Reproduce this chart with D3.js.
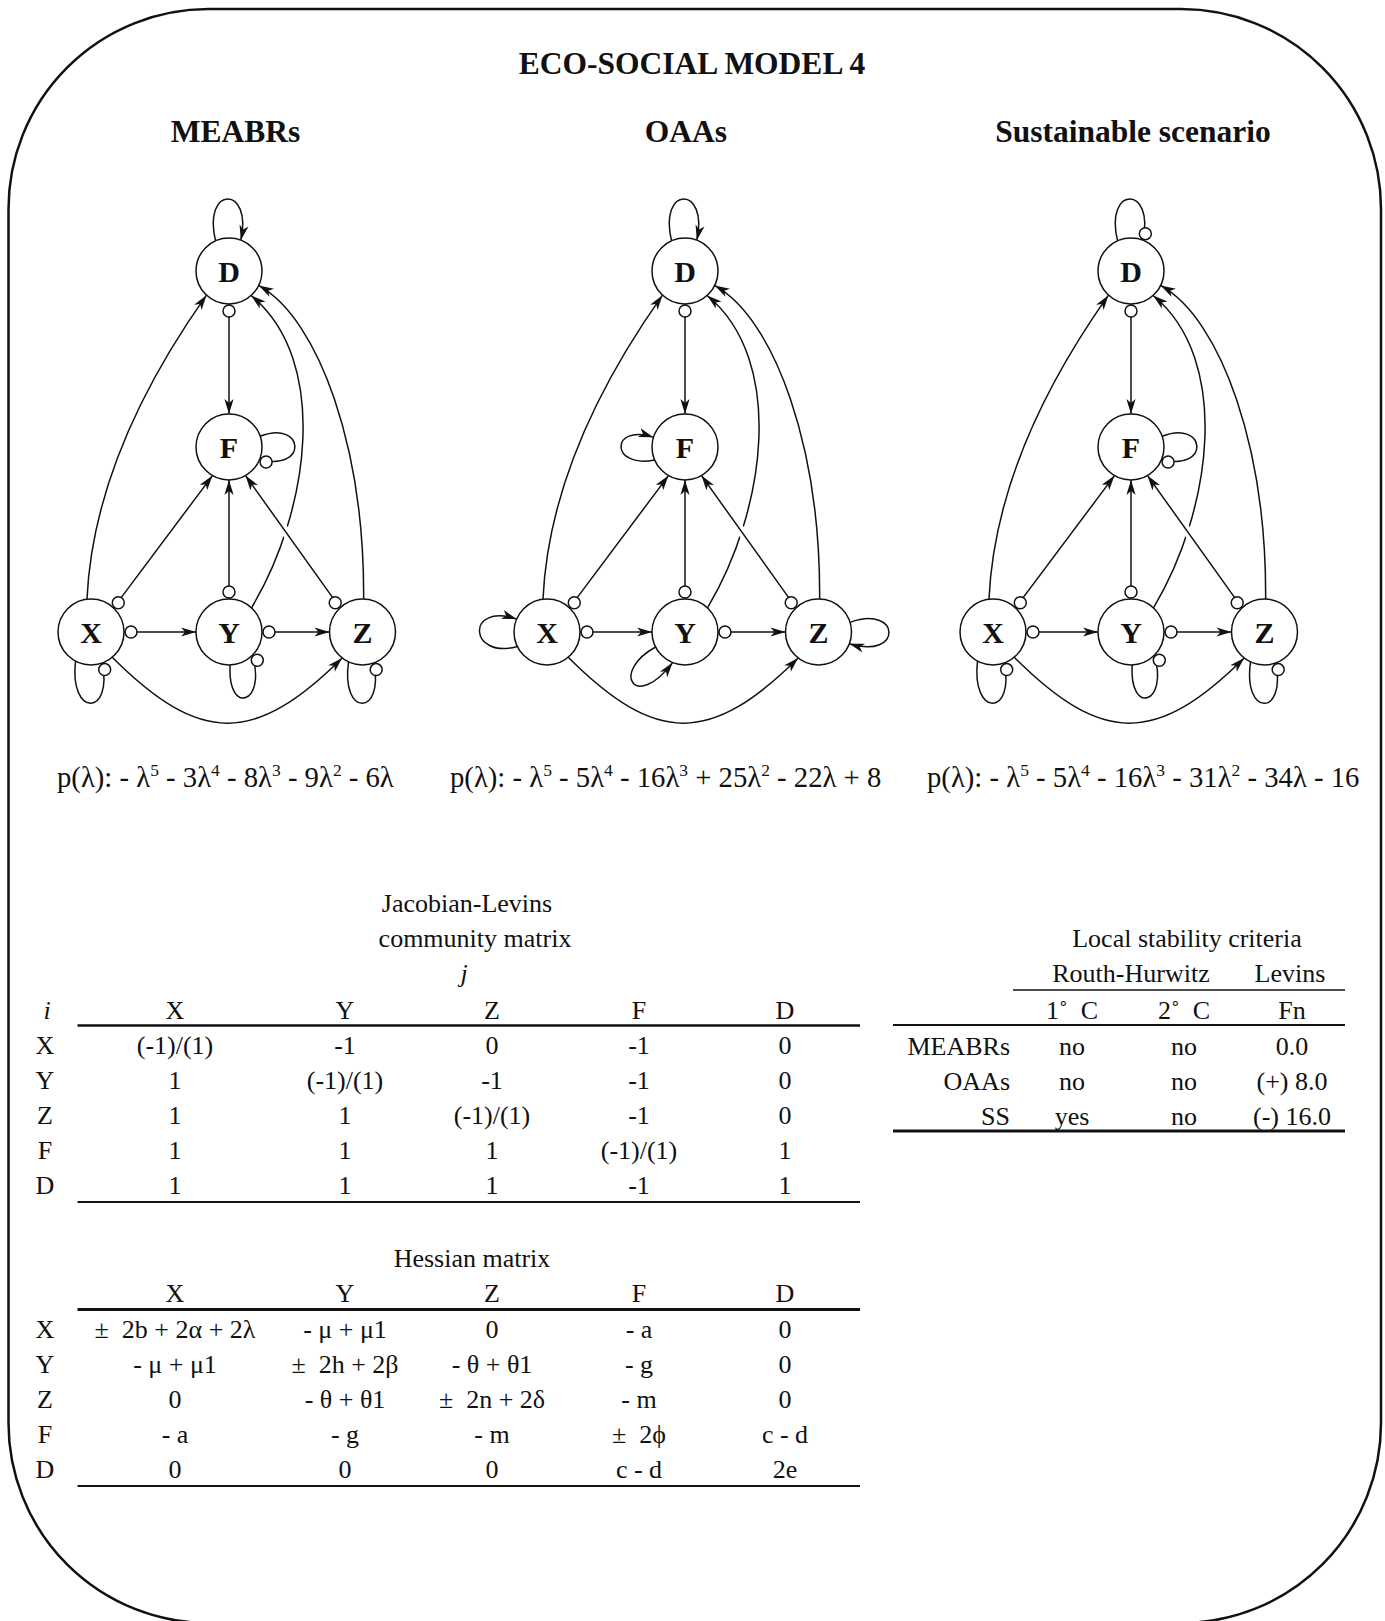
<!DOCTYPE html>
<html><head><meta charset="utf-8">
<script src="https://cdn.jsdelivr.net/npm/d3@7"></script>
<style>
html,body{margin:0;padding:0;background:#fff;}
svg{display:block;}
text{font-family:"Liberation Serif","Times New Roman",serif;fill:#111;}
</style></head><body>
<svg id="chart" width="1385" height="1621"></svg>
<script>
// ---------------- DATA ----------------
const figureTitle = "ECO-SOCIAL MODEL 4";
const scenarioTitles = ["MEABRs", "OAAs", "Sustainable scenario"];
const nodeIds = ["D", "F", "X", "Y", "Z"];
// interactions shared by the three scenarios ("circle" = negative, "arrow" = positive)
const interactionEdges = [
  {source: "X", target: "D", tail: null, head: "arrow"},
  {source: "Y", target: "D", tail: null, head: "arrow"},
  {source: "Z", target: "D", tail: null, head: "arrow"},
  {source: "X", target: "Z", tail: null, head: "arrow"},
  {source: "D", target: "F", tail: "circle", head: "arrow"},
  {source: "X", target: "F", tail: "circle", head: "arrow"},
  {source: "Y", target: "F", tail: "circle", head: "arrow"},
  {source: "Z", target: "F", tail: "circle", head: "arrow"},
  {source: "X", target: "Y", tail: "circle", head: "arrow"},
  {source: "Y", target: "Z", tail: "circle", head: "arrow"}
];
// self-effects per scenario: "+" arrow loop, "-" circle loop
const selfEffects = [
  {D: "+", F: "-", X: "-", Y: "-", Z: "-"},
  {D: "+", F: "+", X: "+", Y: "+", Z: "+"},
  {D: "-", F: "-", X: "-", Y: "-", Z: "-"}
];
// characteristic polynomials: [sign, coefficient, power of λ]
const polynomials = [
  [["-", "", 5], ["-", "3", 4], ["-", "8", 3], ["-", "9", 2], ["-", "6", 1]],
  [["-", "", 5], ["-", "5", 4], ["-", "16", 3], ["+", "25", 2], ["-", "22", 1], ["+", "8", 0]],
  [["-", "", 5], ["-", "5", 4], ["-", "16", 3], ["-", "31", 2], ["-", "34", 1], ["-", "16", 0]]
];
const matrixVars = ["X", "Y", "Z", "F", "D"];
const jacobianRows = [
  ["(-1)/(1)", "-1", "0", "-1", "0"],
  ["1", "(-1)/(1)", "-1", "-1", "0"],
  ["1", "1", "(-1)/(1)", "-1", "0"],
  ["1", "1", "1", "(-1)/(1)", "1"],
  ["1", "1", "1", "-1", "1"]
];
const hessianRows = [
  ["\u00b1\u00a0 2b + 2\u03b1 + 2\u03bb", "- \u03bc + \u03bc1", "0", "- a", "0"],
  ["- \u03bc + \u03bc1", "\u00b1\u00a0 2h + 2\u03b2", "- \u03b8 + \u03b81", "- g", "0"],
  ["0", "- \u03b8 + \u03b81", "\u00b1\u00a0 2n + 2\u03b4", "- m", "0"],
  ["- a", "- g", "- m", "\u00b1\u00a0 2\u03d5", "c - d"],
  ["0", "0", "0", "c - d", "2e"]
];
const stabilityScenarios = ["MEABRs", "OAAs", "SS"];
const stabilityHeaders = ["1\u02da\u00a0\u00a0C", "2\u02da\u00a0\u00a0C", "Fn"];
const routhFirst = ["no", "no", "yes"];
const routhSecond = ["no", "no", "no"];
const levinsFn = ["0.0", "(+) 8.0", "(-) 16.0"];

// ---------------- LAYOUT ----------------
const svg = d3.select("#chart");
const INK = "#111";
const R = 33, RS = 6, LW = 1.5;

svg.append("rect").attr("x", 8.5).attr("y", 9).attr("width", 1372.5).attr("height", 1614)
  .attr("rx", 200).attr("fill", "none").attr("stroke", INK).attr("stroke-width", 2.5);

svg.append("text").attr("x", 692).attr("y", 74).attr("text-anchor", "middle")
  .attr("font-size", 31.5).attr("font-weight", "bold").text(figureTitle);

const graphCx = [229, 685, 1131];
const titleX = [235.5, 686, 1133];
const rowY = d3.scaleOrdinal().domain(["D", "F", "base"]).range([271, 447, 632]);
const colOf = {X: 0, Y: 1, Z: 2, D: 1, F: 1};

const u = a => [Math.cos(a * Math.PI / 180), Math.sin(a * Math.PI / 180)];
const add = (p, q) => [p[0] + q[0], p[1] + q[1]];
const onNode = (c, a, r = R) => [c[0] + r * u(a)[0], c[1] + r * u(a)[1]];

// port angles & control offsets (geometry of the drawing)
const edgeGeom = {
  "X-D": {a0: -97, a1: 133, c0: [2, -165], c1: [-62, 80]},
  "Y-D": {a0: -47, a1: 48, c0: [81, -122], c1: [101, 89]},
  "Z-D": {a0: -88, a1: 26, c0: [2, -182], c1: [91, 49]},
  "X-Z": {a0: 50, a1: 128, c0: [109, 113], c1: [-108, 113]},
  "D-F": {a0: 90, a1: -90},
  "X-F": {a0: -47, a1: 120},
  "Y-F": {a0: -90, a1: 90},
  "Z-F": {a0: -133, a1: 60, halo: true},
  "X-Y": {a0: 0, a1: 180},
  "Y-Z": {a0: 0, a1: 180}
};
const loopGeom = {
  "D-": {a0: -114, a1: -69, c0: [-27, -86], c1: [24, -86]},
  "D+": {a0: -114, a1: -69, c0: [-27, -86], c1: [24, -86]},
  "F-": {a0: -19, a1: 22, c0: [75, -28], c1: [80, 25]},
  "F+": {a0: 157, a1: 197, c0: [-75, 22], c1: [-75, -24]},
  "X-": {a0: 118, a1: 70, c0: [-22, 85], c1: [22, 85]},
  "X+": {a0: 154, a1: 203, c0: [-78, 28], c1: [-82, -30]},
  "Y-": {a0: 88, a1: 45, c0: [-2, 84], c1: [38, 72]},
  "Y+": {a0: 153, a1: 112, c0: [-75, 40], c1: [-50, 80]},
  "Z-": {a0: 115, a1: 70, c0: [-22, 85], c1: [22, 85]},
  "Z+": {a0: -17, a1: 21, c0: [82, -28], c1: [85, 28]}
};

function drawArrow(g, tip, from) {
  const ang = Math.atan2(tip[1] - from[1], tip[0] - from[0]) * 180 / Math.PI;
  g.append("path").attr("d", "M0,0L-15,-4.6L-11,0L-15,4.6Z")
    .attr("transform", `translate(${tip[0]},${tip[1]}) rotate(${ang})`).attr("fill", INK);
}
function drawCircleHead(g, c, a) {
  const p = onNode(c, a, R + RS + 1);
  g.append("circle").attr("cx", p[0]).attr("cy", p[1]).attr("r", RS)
    .attr("fill", "#fff").attr("stroke", INK).attr("stroke-width", LW);
}
const cubic = (p0, p1, p2, p3) => {
  const path = d3.path(); path.moveTo(...p0); path.bezierCurveTo(...p1, ...p2, ...p3); return path.toString();
};

scenarioTitles.forEach((title, gi) => {
  const cx = graphCx[gi];
  const xs = d3.scaleLinear().domain([0, 1, 2]).range([cx - 138, cx, cx + 133.5]);
  const pos = id => [xs(colOf[id]), rowY(id === "D" || id === "F" ? id : "base")];
  const g = svg.append("g");

  g.append("text").attr("x", titleX[gi]).attr("y", 142).attr("text-anchor", "middle")
    .attr("font-size", 31.5).attr("font-weight", "bold").text(title);

  const lines = g.append("g");
  const nodesG = g.append("g"), marks = g.append("g");

  // self loops
  nodeIds.forEach(id => {
    const sign = selfEffects[gi][id];
    const geo = loopGeom[id + sign];
    const c = pos(id);
    const p0 = onNode(c, geo.a0), p3 = onNode(c, geo.a1);
    const p1 = add(c, geo.c0), p2 = add(c, geo.c1);
    lines.append("path").attr("d", cubic(p0, p1, p2, p3)).attr("fill", "none")
      .attr("stroke", INK).attr("stroke-width", LW);
    if (sign === "+") drawArrow(marks, p3, p2); else drawCircleHead(marks, c, geo.a1);
  });

  // interactions
  interactionEdges.forEach(e => {
    const geo = edgeGeom[e.source + "-" + e.target];
    const s = pos(e.source), t = pos(e.target);
    const p0 = onNode(s, geo.a0), p3 = onNode(t, geo.a1);
    let d, from;
    if (geo.c0) {
      const p1 = add(s, geo.c0), p2 = add(t, geo.c1);
      d = cubic(p0, p1, p2, p3); from = p2;
    } else {
      d = `M${p0[0]},${p0[1]}L${p3[0]},${p3[1]}`; from = p0;
    }
    if (geo.halo) lines.append("path").attr("d", d).attr("stroke", "#fff").attr("stroke-width", 9).attr("fill", "none");
    lines.append("path").attr("d", d).attr("fill", "none").attr("stroke", INK).attr("stroke-width", LW);
    if (e.head === "arrow") drawArrow(marks, p3, from);
    if (e.tail === "circle") drawCircleHead(marks, s, geo.a0);
  });

  // nodes
  nodeIds.forEach(id => {
    const c = pos(id);
    nodesG.append("circle").attr("cx", c[0]).attr("cy", c[1]).attr("r", R)
      .attr("fill", "#fff").attr("stroke", INK).attr("stroke-width", LW);
    nodesG.append("text").attr("x", c[0]).attr("y", c[1] + 10.5).attr("text-anchor", "middle")
      .attr("font-size", 30).attr("font-weight", "bold").text(id);
  });
});

// polynomials
const polyX = [57, 450, 927];
polynomials.forEach((terms, i) => {
  const t = svg.append("text").attr("x", polyX[i]).attr("y", 787).attr("font-size", 28.7);
  const segs = [{text: "p(\u03bb): "}];
  terms.forEach((term, k) => {
    const [sign, coef, pow] = term;
    segs.push({text: (k > 0 ? " " : "") + sign + " " + coef + (pow >= 1 ? "\u03bb" : "")});
    if (pow >= 2) segs.push({text: String(pow), sup: true});
  });
  let raised = false;
  segs.forEach(s => {
    const ts = t.append("tspan").text(s.text);
    if (s.sup) { ts.attr("font-size", 17.5).attr("dy", -11); raised = true; }
    else if (raised) { ts.attr("dy", 11); raised = false; }
  });
});

// tables
const FS = 26;
const colX = d3.scaleOrdinal().domain(matrixVars).range([175, 345, 492, 639, 785]);
function txt(x, y, s, opts = {}) {
  const el = svg.append("text").attr("x", x).attr("y", y).attr("font-size", FS)
    .attr("text-anchor", opts.anchor || "middle").text(s);
  if (opts.italic) el.attr("font-style", "italic");
  return el;
}
function rule(x1, x2, y, w) {
  svg.append("line").attr("x1", x1).attr("x2", x2).attr("y1", y).attr("y2", y)
    .attr("stroke", INK).attr("stroke-width", w);
}

// Jacobian
txt(467, 912, "Jacobian-Levins");
txt(475, 947, "community matrix");
txt(464, 982, "j", {italic: true});
txt(47, 1018.5, "i", {italic: true});
matrixVars.forEach(v => txt(colX(v), 1018.5, v));
rule(77.5, 860, 1025.5, 2.5);
const jacY = d3.scalePoint().domain(matrixVars).range([1054, 1194]);
jacobianRows.forEach((row, r) => {
  txt(45, jacY(matrixVars[r]), matrixVars[r]);
  row.forEach((cell, c) => txt(colX(matrixVars[c]), jacY(matrixVars[r]), cell));
});
rule(77.5, 860, 1202, 2);

// Hessian
txt(472, 1267, "Hessian matrix");
matrixVars.forEach(v => txt(colX(v), 1302, v));
rule(77.5, 860, 1309.5, 2.8);
const hesY = d3.scalePoint().domain(matrixVars).range([1337.5, 1478]);
hessianRows.forEach((row, r) => {
  txt(45, hesY(matrixVars[r]), matrixVars[r]);
  row.forEach((cell, c) => txt(colX(matrixVars[c]), hesY(matrixVars[r]), cell));
});
rule(77.5, 860, 1486, 2);

// Stability
txt(1187, 947, "Local stability criteria");
txt(1131, 982, "Routh-Hurwitz");
txt(1290, 982, "Levins");
rule(1013, 1345, 990, 1.5);
const stCol = [1072, 1184, 1292];
stabilityHeaders.forEach((h, i) => txt(stCol[i], 1018.5, h));
rule(893, 1345, 1025, 1.8);
const stY = d3.scalePoint().domain(stabilityScenarios).range([1055, 1125]);
stabilityScenarios.forEach((s, r) => {
  txt(1010, stY(s), s, {anchor: "end"});
  txt(stCol[0], stY(s), routhFirst[r]);
  txt(stCol[1], stY(s), routhSecond[r]);
  txt(stCol[2], stY(s), levinsFn[r]);
});
rule(893, 1345, 1131, 3);
</script>
</body></html>
